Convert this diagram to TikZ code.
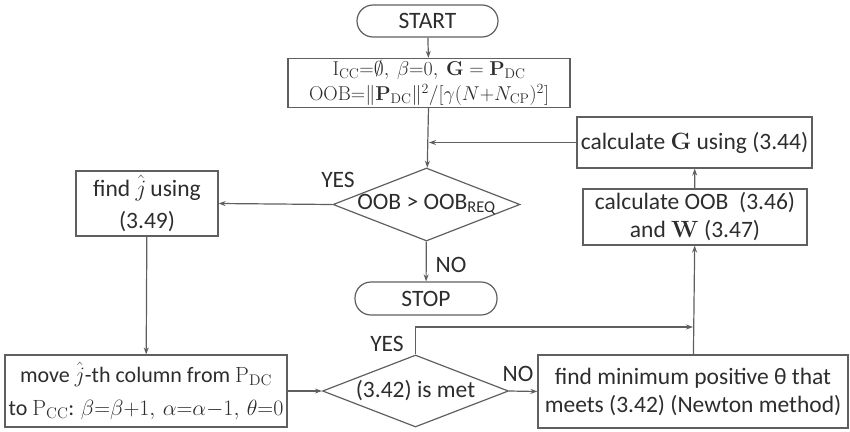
\RequirePackage{fix-cm}
\documentclass[tikz,border=0pt]{standalone}
\usepackage{amsmath}
\usepackage{amssymb}
\usepackage[no-math]{fontspec}
\setmainfont{Carlito}
\usetikzlibrary{shapes.geometric,arrows.meta}
\definecolor{linegray}{RGB}{95,95,95}
\definecolor{textgray}{RGB}{45,45,45}

\begin{document}
\begin{tikzpicture}[x=1pt,y=-1pt,
    every node/.style={text=textgray,font=\fontsize{23.5}{28}\selectfont},
    box/.style={draw=linegray,line width=1.2pt,rectangle,inner sep=0pt,align=center},
    term/.style={draw=linegray,line width=1.2pt,rounded corners=16pt,inner sep=0pt},
    cond/.style={draw=linegray,line width=1.2pt,diamond,inner sep=0pt},
    flow/.style={draw=linegray,line width=1.2pt,-{Stealth[length=7pt,width=5pt]}}]
    \useasboundingbox (0,0) rectangle (850,431);
    % terminals
    \node[term,minimum width=141pt,minimum height=32pt] (start) at (427.5,21) {START};
    \node[term,minimum width=142pt,minimum height=33pt] (stop) at (426,298.5) {STOP};
    % process boxes
    \node[box,minimum width=282pt,minimum height=49pt,font=\fontsize{20}{25}\selectfont] (init) at (429,83)
        {$\mathrm{I}_{\mathrm{CC}}{=}\emptyset,\ \beta{=}0,\ \mathbf{G}=\mathbf{P}_{\mathrm{DC}}$\\
         $\mathrm{OOB}{=}\|\mathbf{P}_{\mathrm{DC}}\|^2/[\gamma(N{+}N_{\mathrm{CP}})^2]$};
    \node[box,minimum width=235pt,minimum height=51pt] (calcG) at (694.5,142.5) {calculate $\mathbf{G}$ using (3.44)};
    \node[box,minimum width=224pt,minimum height=56pt] (calcOOB) at (695,217) {calculate OOB\ \ (3.46)\\and $\mathbf{W}$ (3.47)};
    \node[box,minimum width=142pt,minimum height=65pt,font=\fontsize{23.5}{32}\selectfont] (findj) at (147,203.5) {find $\hat{j}$\,using\\(3.49)};
    \node[box,minimum width=282pt,minimum height=72pt,font=\fontsize{22}{33}\selectfont] (move) at (146,391)
        {move $\hat{j}$-th column from $\mathrm{P}_{\mathrm{DC}}$\\
         to $\mathrm{P}_{\mathrm{CC}}$: $\beta{=}\beta{+}1,\,\alpha{=}\alpha{-}1,\,\theta{=}0$};
    \node[box,minimum width=310pt,minimum height=73pt] (findmin) at (693,391.5)
        {find minimum positive θ that\\meets (3.42) (Newton method)};
    % decisions
    \node[cond,minimum width=187pt,minimum height=73pt] (d1) at (426.5,204.5) {\makebox[0pt]{OOB > OOB\textsubscript{REQ}}};
    \node[cond,minimum width=186pt,minimum height=72pt] (d2) at (415.5,391) {\makebox[0pt]{(3.42) is met}};
    % labels
    \node (yes1) at (338,180) {YES};
    \node (no1) at (451,265) {NO};
    \node (yes2) at (387,344) {YES};
    \node (no2) at (518,374) {NO};
    % connectors
    \coordinate (yesrow) at (0,327);
    \coordinate (join) at (findmin.north |- yesrow);
    \draw[flow] (start) -- (init);
    \draw[flow] (init) -- (d1);
    \draw[flow] (calcG.west) -- (calcG.west -| init.south);
    \draw[flow] (d1.west) -- (findj.east);
    \draw[flow] (d1) -- (stop);
    \draw[flow] (findj) -- (move);
    \draw[flow] (move.east) -- (d2.west);
    \draw[flow] (d2.east) -- (findmin.west);
    \draw[flow] (d2.north) |- (join);
    \draw[flow] (findmin) -- (calcOOB);
    \draw[flow] (calcOOB) -- (calcG);
\end{tikzpicture}
\end{document}
